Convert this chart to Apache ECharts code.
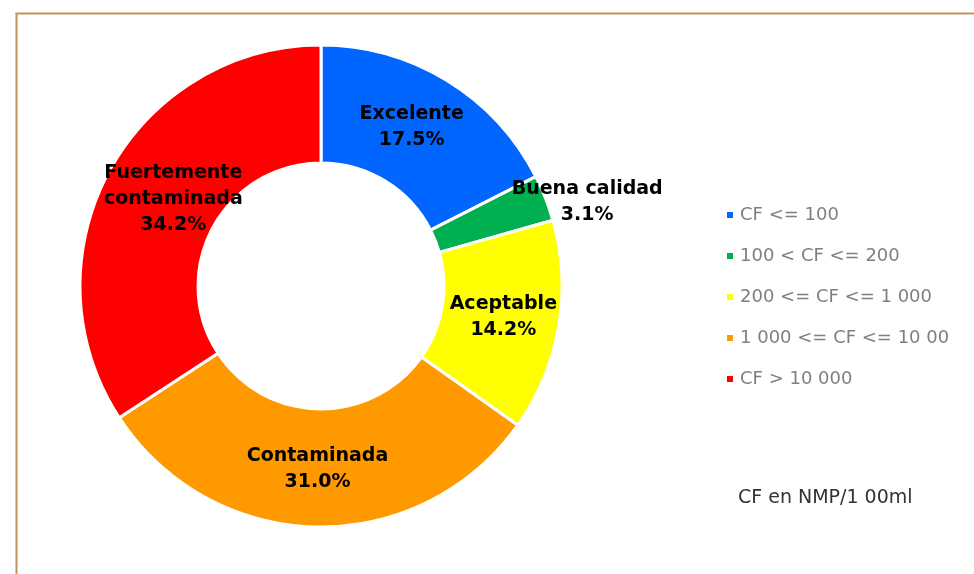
<!DOCTYPE html>
<html>
<head>
<meta charset="utf-8">
<script src="https://cdn.jsdelivr.net/npm/echarts@6/dist/echarts.min.js"></script>
<style>
  html, body { margin: 0; padding: 0; background: #fff; overflow: hidden; }
  #chart { width: 974px; height: 574px; }
</style>
</head>
<body>
<div id="chart"></div>
<script>
var legendNames = ['CF <= 100', '100 < CF <= 200', '200 <= CF <= 1 000', '1 000 <= CF <= 10 00', 'CF > 10 000'];
var labelNames = ['Excelente', 'Buena calidad', 'Aceptable', 'Contaminada', 'Fuertemente\ncontaminada'];
var values = [17.5, 3.1, 14.2, 31.0, 34.2];
var colors = ['#0066FF', '#00B050', '#FFFF00', '#FF9900', '#FF0000'];

var chartDom = document.getElementById('chart');
var myChart = echarts.init(chartDom);
var option;

var pieData = values.map(function (v, i) {
  return { name: legendNames[i], value: v, itemStyle: { color: colors[i] } };
});

var font = 'DejaVu Sans';

option = {
  animation: false,
  textStyle: { fontFamily: font },
  graphic: [
    {
      type: 'line',
      shape: { x1: 16.5, y1: 13, x2: 16.5, y2: 574 },
      style: { stroke: '#C0955A', lineWidth: 2 }
    },
    {
      type: 'line',
      shape: { x1: 15.5, y1: 13.5, x2: 974, y2: 13.5 },
      style: { stroke: '#C0955A', lineWidth: 2 }
    },
    {
      type: 'text',
      left: 738,
      top: 489,
      style: { text: 'CF en NMP/1 00ml', fontSize: 19, fill: '#333333', fontFamily: font }
    }
  ],
  legend: {
    orient: 'vertical',
    left: 725,
    top: 206,
    padding: 0,
    itemWidth: 8,
    itemHeight: 8,
    itemGap: 23,
    icon: 'rect',
    data: legendNames,
    textStyle: { fontSize: 18, color: '#7F7F7F', fontFamily: font, padding: [0, 0, 0, 1] }
  },
  series: [
    {
      type: 'pie',
      center: [321, 286],
      radius: [123, 241],
      startAngle: 90,
      clockwise: true,
      itemStyle: { borderColor: '#fff', borderWidth: 3 },
      label: {
        position: 'inside',
        color: '#000',
        fontSize: 19,
        fontWeight: 'bold',
        lineHeight: 26,
        fontFamily: font,
        formatter: function (p) {
          return labelNames[p.dataIndex] + '\n' + p.value.toFixed(1) + '%';
        }
      },
      labelLine: { show: false },
      labelLayout: function (p) {
        if (p.dataIndex === 1) return { dx: 94, dy: -16 };
        if (p.dataIndex === 4) return { dx: 15, dy: 1 };
        if (p.dataIndex === 0) return { dx: -6, dy: -1 };
        if (p.dataIndex === 3) return { dy: -2 };
        return {};
      },
      data: pieData
    }
  ]
};

option && myChart.setOption(option);
</script>
</body>
</html>
